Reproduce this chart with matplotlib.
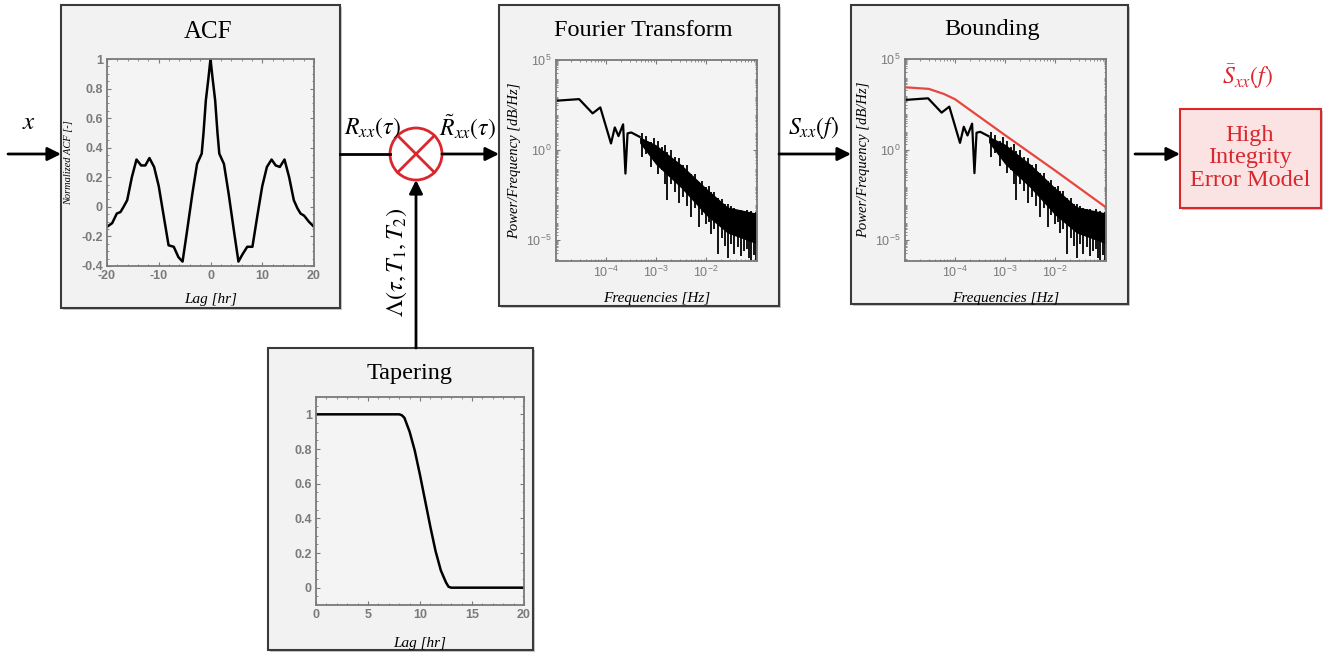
import numpy as np
import matplotlib
matplotlib.use('Agg')
import matplotlib.pyplot as plt
from matplotlib.patches import Rectangle, Circle
from matplotlib.ticker import AutoMinorLocator, LogLocator, NullFormatter, FormatStrFormatter

plt.rcParams['font.family'] = ['Liberation Sans', 'DejaVu Sans']
plt.rcParams['mathtext.fontset'] = 'stix'
plt.rcParams['axes.unicode_minus'] = False

W, H = 1336, 654

# ---- data ----
# ACF panel
acf_lag = [-20, -19, -18.1, -17.4, -16.8, -16.1, -15.2, -14.3, -13.4, -12.6, -11.8, -10.9, -10,
           -9.1, -8.1, -7.1, -6.2, -5.4, -4.6, -3.5, -2.6, -1.7, -1.35, -0.9, -0.4, 0,
           0.4, 0.9, 1.35, 1.7, 2.6, 3.5, 4.6, 5.4, 6.2, 7.1, 8.1, 9.1, 10, 10.9, 11.8,
           12.6, 13.4, 14.3, 15.2, 16.1, 16.8, 17.4, 18.1, 19, 20]
acf_val = [-0.135, -0.11, -0.045, -0.035, 0.0, 0.045, 0.2, 0.32, 0.28, 0.28, 0.33, 0.27, 0.14,
           -0.05, -0.26, -0.27, -0.34, -0.37, -0.18, 0.09, 0.29, 0.36, 0.5, 0.72, 0.87, 1.0,
           0.87, 0.72, 0.5, 0.36, 0.29, 0.09, -0.18, -0.37, -0.32, -0.27, -0.27, -0.05, 0.14,
           0.27, 0.32, 0.28, 0.27, 0.32, 0.2, 0.045, -0.01, -0.045, -0.06, -0.1, -0.135]

# Tapering window
tap_lag = [0, 8, 8.25, 8.5, 9, 9.5, 10, 10.5, 11, 11.5, 12, 12.5, 12.75, 13, 20]
tap_val = [1, 1, 0.995, 0.98, 0.9, 0.79, 0.65, 0.5, 0.35, 0.21, 0.1, 0.03, 0.005, 0, 0]

# PSD, low-frequency part (log10 of power)
psd_f = [1e-5, 2.9e-5, 5.4e-5, 7.7e-5, 1.26e-4, 1.5e-4, 1.78e-4, 2.2e-4, 2.45e-4,
         2.7e-4, 3.2e-4, 3.7e-4, 4.7e-4]
psd_logp = [2.74, 2.83, 2.04, 2.37, 0.37, 1.26, 0.78, 1.43, -1.3, 0.93, 0.98, 0.89, 0.74]

# PSD, dense noisy part: upper/lower envelope of the solid black band
band_f = [4.7e-4, 1e-3, 3.2e-3, 1e-2, 2.7e-2, 0.105]
band_hi = [0.74, 0.3, -0.8, -2.1, -3.15, -3.5]
band_lo = [0.4, -0.8, -2.1, -3.6, -4.6, -5.2]

# single noisy excursions (top, bottom) around the band
spike_f = [5.2e-4, 6.3e-4, 7.9e-4, 9e-4, 1.1e-3, 1.3e-3, 1.5e-3, 1.7e-3, 2e-3, 2.4e-3,
           2.9e-3, 3.5e-3, 4.2e-3, 5e-3, 6e-3, 7.4e-3, 8.5e-3, 1e-2, 1.15e-2, 1.26e-2,
           1.45e-2, 1.78e-2, 2.1e-2, 2.4e-2, 2.7e-2, 3.1e-2, 3.7e-2, 4.3e-2, 5e-2, 5.7e-2,
           6.5e-2, 7.3e-2, 8e-2, 9e-2, 1e-1]
spike_top = [0.95, 0.8, 0.45, 0.7, 0.5, 0.15, 0.3, -0.1, 0.0, -0.4, -0.45, -0.85, -0.8,
             -1.3, -1.3, -1.75, -1.7, -2.04, -2.0, -2.3, -2.3, -2.65, -2.7, -3.0, -3.0,
             -3.1, -3.2, -3.3, -3.3, -3.4, -3.3, -3.45, -3.4, -3.5, -3.45]
spike_bot = [-0.4, -0.2, -0.93, -0.6, -1.3, -1.1, -1.9, -2.78, -1.9, -2.3, -2.96, -2.6,
             -3.1, -3.7, -3.2, -4.26, -3.6, -4.1, -4.0, -4.63, -4.4, -5.74, -4.9, -5.3,
             -6.0, -5.2, -5.74, -5.4, -5.9, -5.6, -5.5, -6.0, -6.1, -5.8, -6.1]

# Bounding curve
bound_f = [1e-5, 3e-5, 6e-5, 1e-4, 1e-3, 1e-2, 0.105]
bound_logp = [3.44, 3.35, 3.07, 2.78, 0.8, -1.15, -3.19]

BOX_FC = '#f2f2f2'
BOX_EC = '#3a3a3a'
GRAY = '#7a7a7a'
RED = '#d9272e'
SERIF = 'Liberation Serif'

fig = plt.figure(figsize=(W / 100, H / 100), dpi=100)
fig.patch.set_facecolor('white')

bg = fig.add_axes([0, 0, 1, 1])
bg.set_xlim(0, W)
bg.set_ylim(H, 0)
bg.axis('off')
bg.set_zorder(-1)


def box(x0, y0, x1, y1, fc=BOX_FC, ec=BOX_EC):
    bg.add_patch(Rectangle((x0 + 2, y0 + 2), x1 - x0, y1 - y0, fc='#c9c9c9', ec='none'))
    bg.add_patch(Rectangle((x0, y0), x1 - x0, y1 - y0, fc=fc, ec=ec, lw=1.5))


def arrow(x0, y0, x1, y1):
    bg.annotate('', xy=(x1, y1), xytext=(x0, y0),
                arrowprops=dict(arrowstyle='-|>', lw=2, color='k', mutation_scale=20,
                                shrinkA=0, shrinkB=0))


def px_axes(x0, y0, x1, y1):
    ax = fig.add_axes([x0 / W, 1 - y1 / H, (x1 - x0) / W, (y1 - y0) / H])
    ax.set_facecolor('#f4f4f4')
    for s in ax.spines.values():
        s.set_color(GRAY)
        s.set_linewidth(1.3)
    ax.tick_params(which='both', direction='in', top=True, right=True, colors=GRAY,
                   labelsize=9, pad=3)
    ax.tick_params(which='major', length=3)
    ax.tick_params(which='minor', length=1.5)
    return ax


def bold_ticks(ax):
    for lab in ax.get_xticklabels() + ax.get_yticklabels():
        lab.set_fontweight('bold')


# ---- boxes ----
box(61, 5, 340, 308)
box(499, 5, 779, 306)
box(851, 5, 1128, 304)
box(268, 348, 533, 650)
box(1180, 109, 1321, 208, fc='#fbe3e3', ec=RED)

# titles
bg.text(208, 32, 'ACF', family=SERIF, fontsize=18, ha='center', va='center')
bg.text(643, 30, 'Fourier Transform', family=SERIF, fontsize=17.5, ha='center', va='center')
bg.text(992, 30, 'Bounding', family=SERIF, fontsize=17.5, ha='center', va='center')
bg.text(410, 374, 'Tapering', family=SERIF, fontsize=17.5, ha='center', va='center')

# ---- ACF panel ----
ax1 = px_axes(107, 59, 314, 266)
ax1.plot(acf_lag, acf_val, color='k', lw=1.8)
ax1.set_xlim(-20, 20)
ax1.set_ylim(-0.4, 1)
ax1.set_xticks([-20, -10, 0, 10, 20])
ax1.set_yticks(np.arange(-0.4, 1.01, 0.2))
ax1.yaxis.set_major_formatter(FormatStrFormatter('%g'))
ax1.xaxis.set_minor_locator(AutoMinorLocator(5))
ax1.yaxis.set_minor_locator(AutoMinorLocator(4))
ax1.set_xlabel('Lag [hr]', family=SERIF, style='italic', fontsize=11)
ax1.set_ylabel('Normalized ACF [-]', family=SERIF, style='italic', fontsize=7.5)
ax1.xaxis.set_label_coords(0.5, -0.13)
ax1.yaxis.set_label_coords(-0.165, 0.5)
bold_ticks(ax1)


# ---- PSD panels ----
def draw_psd(ax, bound=False):
    ax.plot(psd_f, 10.0 ** np.array(psd_logp), color='k', lw=1.6)
    ax.fill_between(band_f, 10.0 ** np.array(band_hi), 10.0 ** np.array(band_lo),
                    color='k', lw=0)
    ax.vlines(spike_f, 10.0 ** np.array(spike_top), 10.0 ** np.array(spike_bot),
              color='k', lw=1.3)
    if bound:
        ax.plot(bound_f, 10.0 ** np.array(bound_logp), color='#e8463c', lw=1.6)
    ax.set_xscale('log')
    ax.set_yscale('log')
    ax.set_xlim(1e-5, 0.105)
    ax.set_ylim(10 ** -6.15, 1e5)
    ax.set_xticks([1e-4, 1e-3, 1e-2])
    ax.set_yticks([1e-5, 1e0, 1e5])
    ax.xaxis.set_minor_locator(LogLocator(base=10, subs=np.arange(2, 10), numticks=20))
    ax.yaxis.set_minor_locator(LogLocator(base=10, subs=np.arange(2, 10), numticks=20))
    ax.xaxis.set_minor_formatter(NullFormatter())
    ax.yaxis.set_minor_formatter(NullFormatter())
    ax.tick_params(which='minor', length=1.2)
    ax.tick_params(labelsize=9)
    ax.set_xlabel('Frequencies [Hz]', family=SERIF, style='italic', fontsize=11)
    ax.set_ylabel('Power/Frequency [dB/Hz]', family=SERIF, style='italic', fontsize=10.5)
    ax.xaxis.set_label_coords(0.5, -0.155)
    ax.yaxis.set_label_coords(-0.175, 0.5)


ax2 = px_axes(556, 60, 757, 261)
draw_psd(ax2)
ax3 = px_axes(905, 59, 1106, 261)
draw_psd(ax3, bound=True)

# ---- Tapering panel ----
ax4 = px_axes(316, 397, 524, 605)
ax4.plot(tap_lag, tap_val, color='k', lw=1.8)
ax4.set_xlim(0, 20)
ax4.set_ylim(-0.1, 1.1)
ax4.set_xticks([0, 5, 10, 15, 20])
ax4.set_yticks(np.arange(0, 1.01, 0.2))
ax4.yaxis.set_major_formatter(FormatStrFormatter('%g'))
ax4.xaxis.set_minor_locator(AutoMinorLocator(5))
ax4.yaxis.set_minor_locator(AutoMinorLocator(4))
ax4.set_xlabel('Lag [hr]', family=SERIF, style='italic', fontsize=11)
ax4.xaxis.set_label_coords(0.5, -0.155)
bold_ticks(ax4)

# ---- signal flow ----
cx, cy, r = 416, 154, 26
arrow(8, 154, 61, 154)
bg.plot([340, cx - r], [154, 154], color='k', lw=2)
arrow(cx + r, 154, 499, 154)
arrow(779, 154, 851, 154)
arrow(1135, 154, 1180, 154)
arrow(cx, 348, cx, cy + r)

bg.add_patch(Circle((cx, cy), r, fill=False, ec=RED, lw=2))
d = r / np.sqrt(2)
bg.plot([cx - d, cx + d], [cy - d, cy + d], color=RED, lw=2)
bg.plot([cx - d, cx + d], [cy + d, cy - d], color=RED, lw=2)

bg.text(29, 122, r'$x$', fontsize=18, ha='center', va='center')
bg.text(372, 128, r'$R_{xx}(\tau)$', fontsize=17, ha='center', va='center')
bg.text(468, 127, r'$\tilde{R}_{xx}(\tau)$', fontsize=17, ha='center', va='center')
bg.text(813, 128, r'$S_{xx}(f)$', fontsize=17, ha='center', va='center')
bg.text(1248, 77, r'$\bar{S}_{xx}(f)$', fontsize=17, color=RED, ha='center', va='center')
bg.text(397, 262, r'$\Lambda(\tau, T_1, T_2)$', fontsize=17.5, rotation=90,
        ha='center', va='center')
bg.text(1250, 158, 'High\nIntegrity\nError Model', family=SERIF, fontsize=17.5,
        color=RED, ha='center', va='center', linespacing=1.1)

fig.savefig('out.png', dpi=100)
